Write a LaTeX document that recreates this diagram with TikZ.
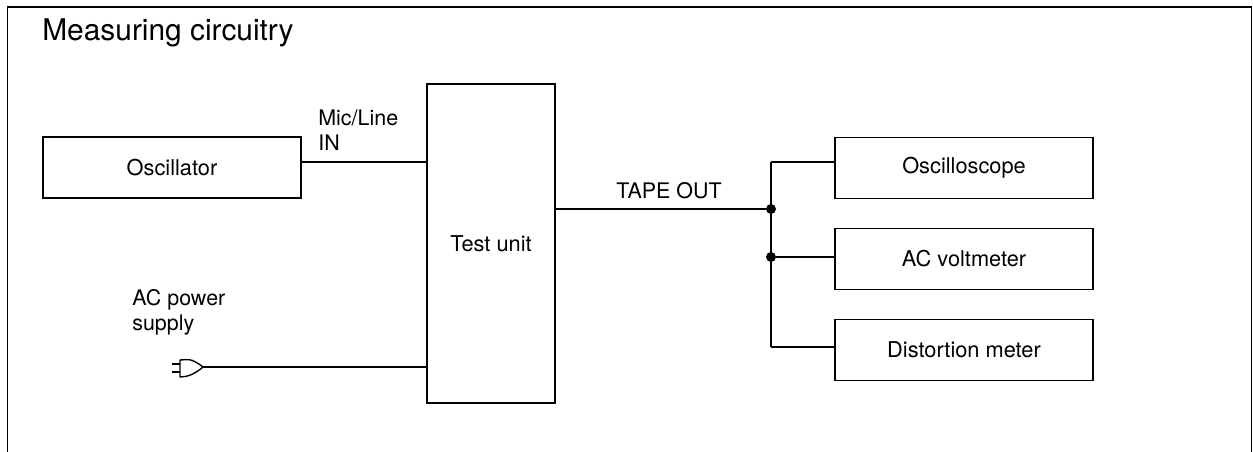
\documentclass[tikz,border=0pt]{standalone}
\usepackage{fontspec}
\setmainfont{TeX Gyre Heros}
\tikzset{
    unitbox/.style={draw, line width=0.8pt, minimum width=5.16cm, minimum height=1.22cm, font=\fontsize{12.4}{14}\selectfont},
    wire/.style={line width=0.8pt},
    tag/.style={font=\fontsize{12.2}{14.2}\selectfont, align=left, inner sep=0pt},
    joint/.style={circle, fill=black, inner sep=0pt, minimum size=0.2cm}
}

\begin{document}
\begin{tikzpicture}
    \useasboundingbox (0,0) rectangle (25.06,9.04);
    % Marco abierto por abajo
    \draw[wire] (0.15,0) -- (0.15,8.9) -- (25.03,8.9) -- (25.03,0);
    \node[tag, anchor=west, font=\fontsize{17}{20}\selectfont] (title) at (0.84,8.38) {Measuring circuitry};
    % Cajas
    \node[unitbox] (osc) at (3.44,5.69) {Oscillator};
    \node[unitbox, minimum width=2.56cm, minimum height=6.38cm] (test) at (9.82,4.17) {Test unit};
    \node[unitbox] (scope) at (19.28,5.68) {Oscilloscope};
    \node[unitbox] (volt) at (19.28,3.86) {AC voltmeter};
    \node[unitbox] (dist) at (19.28,2.04) {Distortion meter};
    % Puntos de union
    \node[joint] (joinA) at (15.42,4.86) {};
    \node[joint] (joinB) at (15.42,3.9) {};
    \coordinate (busTop) at (15.42,5.8);
    \coordinate (busEnd) at (15.42,2.1);
    \coordinate (oscOut) at (6.02,5.8);
    \coordinate (plugTip) at (4.06,1.7);
    % Conexiones
    \draw[wire] (oscOut) -- (oscOut -| test.west);
    \draw[wire] (joinA -| test.east) -- (joinA);
    \draw[wire] (busTop) -- (busEnd);
    \draw[wire] (busTop) -- (busTop -| scope.west);
    \draw[wire] (joinB) -- (joinB -| volt.west);
    \draw[wire] (busEnd) -- (busEnd -| dist.west);
    \draw[wire] (plugTip) -- (plugTip -| test.west);
    % Enchufe
    \draw[wire, line join=round] (plugTip) .. controls (3.8,1.9) and (3.75,1.84) .. (3.6,1.84) -- (3.6,1.5) .. controls (3.75,1.5) and (3.9,1.56) .. (plugTip);
    \draw[wire] (3.44,1.76) -- (3.6,1.76);
    \draw[wire] (3.44,1.6) -- (3.6,1.6);
    % Etiquetas
    \node[tag, anchor=west] (micLabel) at (6.36,6.43) {Mic/Line\\IN};
    \node[tag] (tapeLabel) at (13.38,5.22) {TAPE OUT};
    \node[tag, anchor=west] (powerLabel) at (2.64,2.79) {AC power\\supply};
\end{tikzpicture}
\end{document}
